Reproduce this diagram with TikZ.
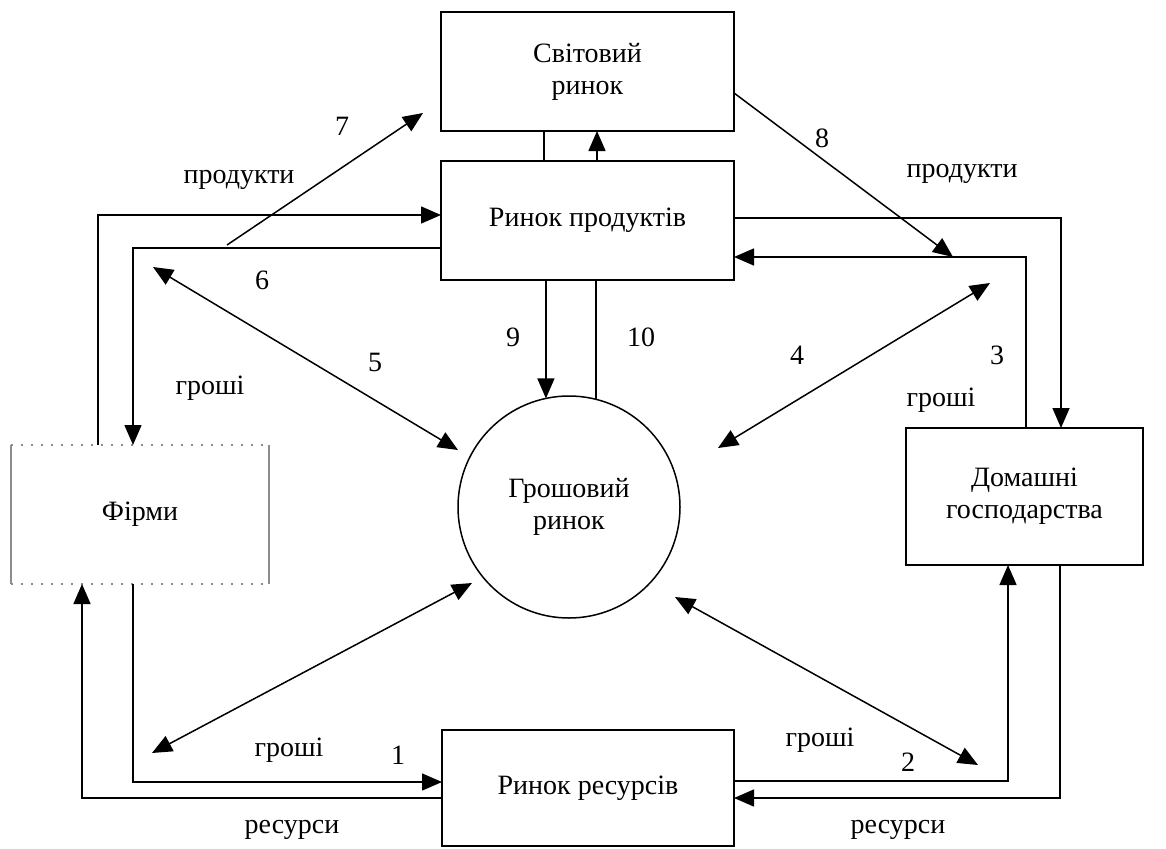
\documentclass[tikz,border=0pt]{standalone}
\usepackage{fontspec}
\setmainfont{Liberation Serif}
\usetikzlibrary{arrows.meta}
\tikzset{
  box/.style={draw=black, line width=1.5pt, rectangle, inner sep=0pt, outer sep=0pt, align=center},
  lbl/.style={inner sep=0pt, font=\fontsize{28}{32}\selectfont},
  ln/.style={draw=black, line width=1.5pt},
  arr/.style={ln, -{Triangle[length=20pt,width=17pt]}},
  darr/.style={ln, {Triangle[length=20pt,width=17pt]}-{Triangle[length=20pt,width=17pt]}},
  faint/.style={draw=black!45, line width=1.2pt},
  faintdot/.style={draw=black!45, line width=1.2pt, dash pattern=on 2pt off 8pt}
}
\begin{document}
\begin{tikzpicture}[x=1pt,y=-1pt, every node/.style={font=\fontsize{28}{32}\selectfont}]
\useasboundingbox (0,0) rectangle (1166,848);
\fill[white] (0,0) rectangle (1166,848);

% boxes
\node[box, minimum width=293pt, minimum height=119pt] (world) at (587.5,71.5) {Світовий\\ринок};
\node[box, minimum width=293pt, minimum height=119pt] (products) at (587.5,220.5) {Ринок продуктів};
\node[box, minimum width=292pt, minimum height=116pt] (resources) at (588,788) {Ринок ресурсів};
\node[inner sep=0pt, outer sep=0pt, minimum width=258pt, minimum height=139pt, align=center] (firms) at (140,514.5) {Фірми};
\draw[faint] (firms.north west) -- (firms.south west);
\draw[faint] (firms.north east) -- (firms.south east);
\draw[faintdot] (firms.north west) -- (firms.north east);
\draw[faintdot] (firms.south west) -- (firms.south east);
\node[box, minimum width=237pt, minimum height=137pt] (hh) at (1024.5,496.5) {Домашні\\господарства};
\node[draw=black, line width=1.5pt, circle, minimum size=222pt, inner sep=0pt, outer sep=0pt, align=center] (money) at (569,507) {Грошовий\\ринок};

% corner coordinates
\coordinate (c1) at (98,215);
\coordinate (c2) at (133,248);
\coordinate (c3) at (1061,218);
\coordinate (c4) at (1026,257);
\coordinate (c5) at (133,782);
\coordinate (c6) at (82,798);
\coordinate (c7) at (1008,781);
\coordinate (c8) at (1060,798);
\coordinate (w1) at (544,0);
\coordinate (w2) at (597,0);

% loops
\draw[arr] (c1 |- firms.north) -- (c1) -- (c1 -| products.west);
\draw[arr] (c2 -| products.west) -- (c2) -- (c2 |- firms.north);
\draw[arr] (c3 -| products.east) -- (c3) -- (c3 |- hh.north);
\draw[arr] (c4 |- hh.north) -- (c4) -- (c4 -| products.east);
\draw[arr] (c5 |- firms.south) -- (c5) -- (c5 -| resources.west);
\draw[arr] (c6 -| resources.west) -- (c6) -- (c6 |- firms.south);
\draw[arr] (c7 -| resources.east) -- (c7) -- (c7 |- hh.south);
\draw[arr] (c8 |- hh.south) -- (c8) -- (c8 -| resources.east);

% world <-> products
\draw[ln] (w1 |- world.south) -- (w1 |- products.north);
\draw[arr] (w2 |- products.north) -- (w2 |- world.south);

% products <-> money
\draw[arr] (products.south -| money.102.5) -- (money.102.5);
\draw[ln] (money.76) -- (products.south -| money.76);

% arrows 7 and 8
\coordinate (a7s) at (227,245);
\coordinate (a7e) at (423,113);
\draw[arr] (a7s) -- (a7e);
\coordinate (a8e) at (953,257);
\draw[arr] (world.east |- 0,93) -- (a8e);

% double arrows
\coordinate (d5a) at (153,267);
\coordinate (d5b) at (458,450);
\draw[darr] (d5a) -- (d5b);
\coordinate (d4a) at (990,283);
\coordinate (d4b) at (718,448);
\draw[darr] (d4a) -- (d4b);
\coordinate (dla) at (152,753);
\coordinate (dlb) at (472,583);
\draw[darr] (dla) -- (dlb);
\coordinate (dra) at (675,597);
\coordinate (drb) at (978,765);
\draw[darr] (dra) -- (drb);

% labels
\node[lbl] (l7) at (342,126) {7};
\node[lbl] (lp1) at (239,180) {продукти};
\node[lbl] (l8) at (822,138) {8};
\node[lbl] (lp2) at (962,174) {продукти};
\node[lbl] (l6) at (262,280) {6};
\node[lbl] (l5) at (375,362) {5};
\node[lbl] (lg1) at (210,388) {гроші};
\node[lbl] (l9) at (513,337) {9};
\node[lbl] (l10) at (641,337) {10};
\node[lbl] (l4) at (797,355) {4};
\node[lbl] (l3) at (997,355) {3};
\node[lbl] (lg2) at (941,400) {гроші};
\node[lbl] (lg3) at (289,750) {гроші};
\node[lbl] (l1) at (398,755) {1};
\node[lbl] (lg4) at (820,740) {гроші};
\node[lbl] (l2) at (908,762) {2};
\node[lbl] (lr1) at (292,830) {ресурси};
\node[lbl] (lr2) at (898,830) {ресурси};
\end{tikzpicture}
\end{document}
